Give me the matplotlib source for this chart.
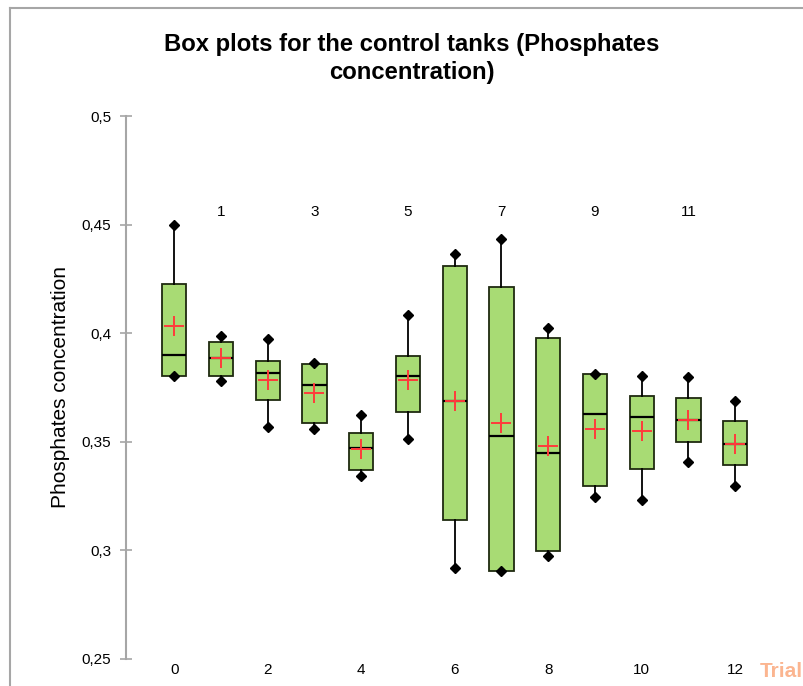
import matplotlib.pyplot as plt
from matplotlib.lines import Line2D

# values
groups = list(range(13))
minimum = [0.3801, 0.3780, 0.3567, 0.3560, 0.3343, 0.3514, 0.2919, 0.2902, 0.2971, 0.3246, 0.3232, 0.3404, 0.3296]
q1 = [0.3801, 0.3803, 0.3691, 0.3587, 0.3367, 0.3637, 0.3137, 0.2905, 0.2997, 0.3294, 0.3376, 0.3499, 0.3390]
median = [0.3901, 0.3883, 0.3818, 0.3760, 0.3471, 0.3801, 0.3689, 0.3524, 0.3448, 0.3625, 0.3614, 0.3600, 0.3491]
q3 = [0.4225, 0.3961, 0.3872, 0.3858, 0.3538, 0.3894, 0.4311, 0.4214, 0.3978, 0.3812, 0.3708, 0.3702, 0.3593]
maximum = [0.4500, 0.3986, 0.3972, 0.3860, 0.3622, 0.4085, 0.4363, 0.4432, 0.4024, 0.3811, 0.3804, 0.3797, 0.3688]
mean = [0.4033, 0.3883, 0.3786, 0.3726, 0.3468, 0.3785, 0.3689, 0.3588, 0.3481, 0.3560, 0.3551, 0.3600, 0.3491]

yticks = [0.25, 0.3, 0.35, 0.4, 0.45, 0.5]
ytick_labels = ['0,25', '0,3', '0,35', '0,4', '0,45', '0,5']

plt.rcParams['font.family'] = ['Liberation Sans', 'DejaVu Sans']

fig = plt.figure(figsize=(8.04, 6.86), dpi=100)
ax = fig.add_axes([0.1567, 0.0398, 0.8159, 0.7911])

stats = []
for i in groups:
    stats.append({
        'whislo': minimum[i], 'q1': q1[i], 'med': median[i], 'q3': q3[i],
        'whishi': maximum[i], 'mean': mean[i], 'fliers': [minimum[i], maximum[i]],
    })

ax.bxp(stats, positions=groups, widths=0.52, patch_artist=True,
       showmeans=True, showcaps=False, showfliers=True,
       boxprops=dict(facecolor='#a8db74', edgecolor='#1f2a10', linewidth=1.3),
       medianprops=dict(color='black', linewidth=1.6),
       whiskerprops=dict(color='black', linewidth=1.3),
       meanprops=dict(marker='+', markeredgecolor='#ff3b3b', markersize=14, markeredgewidth=1.4),
       flierprops=dict(marker='D', markerfacecolor='black', markeredgecolor='black', markersize=5.5))

ax.set_xlim(-1.03, 13)
ax.set_ylim(0.25, 0.5)

ax.set_yticks(yticks)
ax.set_yticklabels(ytick_labels, fontsize=11)
ax.tick_params(axis='y', direction='inout', length=9, width=1.2, color='#a6a6a6', pad=6)

even = [g for g in groups if g % 2 == 0]
odd = [g for g in groups if g % 2 == 1]
ax.set_xticks(even)
ax.set_xticklabels([str(g) for g in even], fontsize=11)
ax.tick_params(axis='x', length=0, pad=3)
for g in odd:
    ax.text(g, 0.4558, str(g), ha='center', va='center', fontsize=11)

for s in ['top', 'right', 'bottom']:
    ax.spines[s].set_visible(False)
ax.spines['left'].set_color('#a6a6a6')
ax.spines['left'].set_linewidth(1.5)

ax.set_ylabel('Phosphates concentration', fontsize=15)
ax.yaxis.set_label_coords(-0.085, 0.5)

fig.text(0.5124, 0.915, 'Box plots for the control tanks (Phosphates\nconcentration)',
         ha='center', va='center', fontsize=17.2, fontweight='bold', linespacing=1.3)

# outer frame of the chart area
fig.add_artist(Line2D([10/804, 10/804], [0, 1 - 8/686], color='#a6a6a6', linewidth=1.5))
fig.add_artist(Line2D([10/804, 1], [1 - 8/686, 1 - 8/686], color='#a6a6a6', linewidth=1.5))

# trial watermark
fig.text(0.998, 0.008, 'Trial', color='#fbb590', fontsize=15, fontweight='bold', ha='right', va='bottom')

fig.savefig('out.png', dpi=100)
